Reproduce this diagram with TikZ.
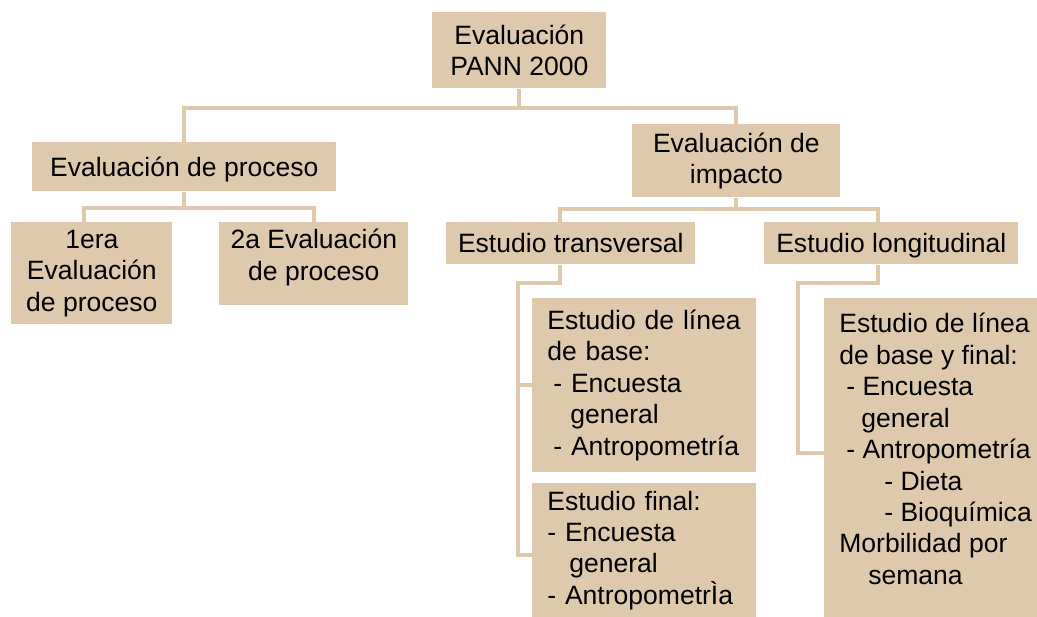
\documentclass[tikz,border=0pt]{standalone}
\usepackage{fontspec}
\setmainfont{Liberation Sans}
\begin{document}
\begin{tikzpicture}[x=0.02cm,y=-0.02cm,
  box/.style={fill=beige,anchor=north west,inner sep=0pt,align=center,
    font=\fontsize{15.1}{17.9}\selectfont},
  lbox/.style={box,align=left,inner xsep=0.3cm},
  link/.style={draw=beige,line width=0.08cm}]
 \definecolor{beige}{RGB}{222,201,172}
 \useasboundingbox (0,0) rectangle (1037,617);
 % boxes
 \node[box,minimum width=3.48cm,minimum height=1.52cm] (top) at (432,12)
   {Evaluación\\PANN 2000};
 \node[box,minimum width=6.08cm,minimum height=0.98cm,text depth=0pt] (proc)
   at (32,142) {Evaluación de proceso};
 \node[box,minimum width=4.16cm,minimum height=1.46cm] (imp) at (632,124)
   {Evaluación de\\impacto};
 \node[box,minimum width=3.22cm,minimum height=2.04cm] (era) at (11,222)
   {1era\\Evaluación\\de proceso};
 \node[box,minimum width=3.78cm,minimum height=1.66cm,text depth=10.6pt] (seg)
   at (219,222) {2a Evaluación\\de proceso};
 \node[box,minimum width=4.98cm,minimum height=0.84cm,text depth=0pt] (trans)
   at (446,222) {Estudio transversal};
 \node[box,minimum width=5.08cm,minimum height=0.84cm,text depth=0pt] (long)
   at (764,222) {Estudio longitudinal};
 \node[lbox,text width=3.88cm,minimum height=3.48cm] (base) at (532,298)
   {Estudio de línea\\de base:\\
    \hspace*{0.12cm}- Encuesta\\\hspace*{0.46cm}general\\
    \hspace*{0.12cm}- Antropometría};
 \node[lbox,text width=3.88cm,minimum height=2.68cm] (fin) at (532,483)
   {Estudio final:\\- Encuesta\\\hspace*{0.44cm}general\\- AntropometrÌa};
 % wider than the page on the right, cut off there
 \node[lbox,minimum width=4.26cm,minimum height=6.38cm,text depth=10.2pt] (bf)
   at (824,298)
   {Estudio de línea\\de base y final:\\
    \hspace*{0.14cm}- Encuesta\\\hspace*{0.44cm}general\\
    \hspace*{0.14cm}- Antropometría\\
    \hspace*{0.9cm}- Dieta\\\hspace*{0.9cm}- Bioquímica\\
    Morbilidad por\\\hspace*{0.58cm}semana};
 % connectors
 \draw[link] (top.south) -- ++(0,19) -| (proc.north);
 \draw[link] (top.south) -- ++(0,19) -| (imp.north);
 \draw[link] (proc.south) -- ++(0,16) -| ([xshift=-0.15cm]era.north);
 \draw[link] (proc.south) -- ++(0,16) -| (seg.north);
 \draw[link] (imp.south) -- ++(0,11) -| ([xshift=-0.21cm]trans.north);
 \draw[link] (imp.south) -- ++(0,11) -| ([xshift=-0.26cm]long.north);
 \draw[link] ([xshift=-0.21cm]trans.south) -- ++(0,18)
   -| ([xshift=-0.28cm,yshift=-0.1cm]fin.west) -- ([yshift=-0.1cm]fin.west);
 \draw[link] (base.west) -- ++(-14,0);
 \draw[link] ([xshift=-0.26cm]long.south) -- ++(0,18)
   -| ([xshift=-0.52cm,yshift=0.1cm]bf.west) -- ([yshift=0.1cm]bf.west);
\end{tikzpicture}
\end{document}
